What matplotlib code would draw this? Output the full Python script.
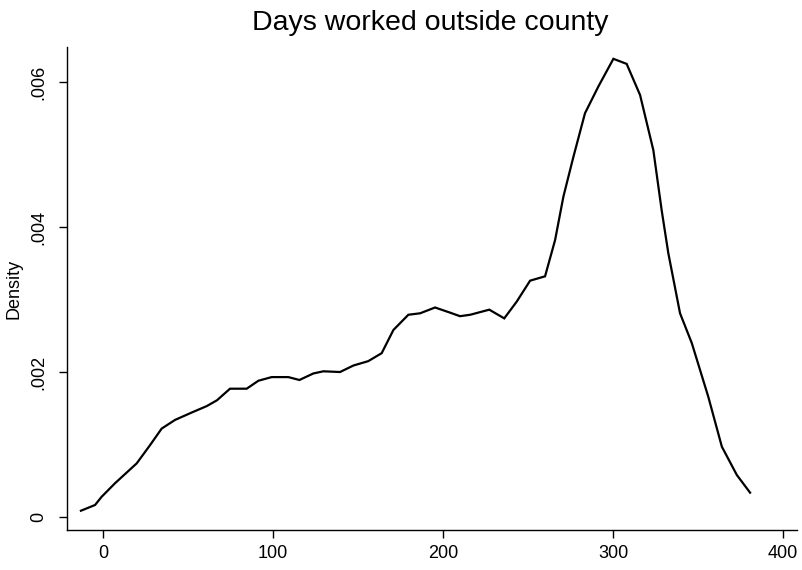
import matplotlib
matplotlib.use("Agg")
import matplotlib.pyplot as plt
from matplotlib import font_manager
from matplotlib.ticker import FixedLocator, FixedFormatter

days = [-13, -4.7, -0.8, 7, 19.8, 27.6, 34.5, 42.4, 53, 61, 67, 74.7, 84.5, 91.4,
        99.2, 109, 115.5, 123.7, 129.6, 139.4, 147.3, 156, 163.9, 170.8, 179.6,
        186.5, 195.3, 204, 210, 216, 227.2, 236, 243.3, 251.2, 260, 265.9, 270.8,
        276.7, 283.5, 291.4, 300.2, 308, 315.9, 323.7, 328.6, 332.5, 339.4, 346.3,
        356, 364, 372.8, 380.6]
density = [0.000087, 0.000166, 0.00028, 0.000465, 0.00074, 0.00099, 0.00122,
           0.00134, 0.00145, 0.00153, 0.00161, 0.00177, 0.00177, 0.00188, 0.00193,
           0.00193, 0.00189, 0.00198, 0.00201, 0.00200, 0.00209, 0.00215, 0.00226,
           0.00258, 0.00279, 0.00281, 0.00289, 0.00282, 0.00277, 0.00279, 0.00286,
           0.00274, 0.00297, 0.00326, 0.00332, 0.00382, 0.00442, 0.00497, 0.00557,
           0.00594, 0.00632, 0.00625, 0.00582, 0.00506, 0.00423, 0.00364, 0.00281,
           0.00240, 0.00166, 0.00097, 0.00058, 0.000336]

xticks = [0, 100, 200, 300, 400]
xticklabels = ["0", "100", "200", "300", "400"]
yticks = [0, 0.002, 0.004, 0.006]
yticklabels = ["0", ".002", ".004", ".006"]

names = {f.name for f in font_manager.fontManager.ttflist}
tick_font = "Liberation Sans Narrow" if "Liberation Sans Narrow" in names else "Liberation Sans"
plt.rcParams['font.family'] = ['Liberation Sans', 'DejaVu Sans']

fig = plt.figure(figsize=(8.02, 5.70), dpi=100)
ax = fig.add_axes([67/802, 40/570, 730/802, 483/570])
ax.plot(days, density, color='black', linewidth=1.6, solid_joinstyle='miter')

ax.set_xlim(-21.2, 408.2)
ax.set_ylim(-0.000179, 0.006483)
ax.xaxis.set_major_locator(FixedLocator(xticks))
ax.xaxis.set_major_formatter(FixedFormatter(xticklabels))
ax.yaxis.set_major_locator(FixedLocator(yticks))
ax.yaxis.set_major_formatter(FixedFormatter(yticklabels))

for s in ['top', 'right']:
    ax.spines[s].set_visible(False)
for s in ['left', 'bottom']:
    ax.spines[s].set_linewidth(1.0)
    ax.spines[s].set_color('black')

ax.tick_params(axis='both', direction='out', length=6, width=1, colors='black',
               labelsize=13)
ax.tick_params(axis='x', pad=5)
ax.tick_params(axis='y', pad=8)
for lab in ax.get_xticklabels():
    lab.set_fontfamily(tick_font)
for lab in ax.get_yticklabels():
    lab.set_fontfamily(tick_font)
    lab.set_rotation(90)
    lab.set_va('center')

ax.set_ylabel("Density", fontsize=13, fontfamily=tick_font, labelpad=6)
fig.text(430/802, 1 - 23/570, "Days worked outside county", ha='center', va='center',
         fontsize=20.5)

fig.savefig("out.png", dpi=100, facecolor='white')
